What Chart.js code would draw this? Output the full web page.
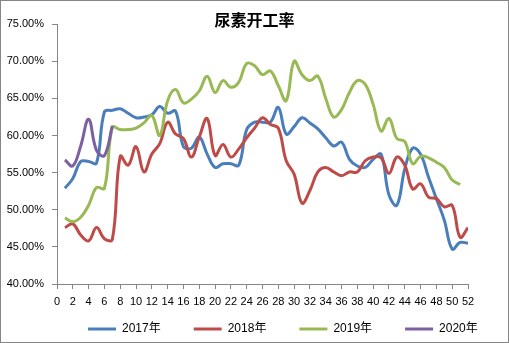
<!DOCTYPE html>
<html lang="zh-CN">
<head>
  <meta charset="UTF-8" />
  <title>尿素开工率</title>
  <script src="https://cdn.jsdelivr.net/npm/chart.js"></script>
  <style>
    body { margin: 0; background: #fff; }
    #wrap { width: 509px; height: 343px; }
  </style>
</head>
<body>
  <div id="wrap"><canvas id="grafico" width="509" height="343"></canvas></div>

  <script>
    // semanas (eixo x)
    const weeks = [1, 2, 3, 4, 5, 6, 7, 8, 9, 10, 11, 12, 13, 14, 15, 16, 17, 18, 19, 20,
      21, 22, 23, 24, 25, 26, 27, 28, 29, 30, 31, 32, 33, 34, 35, 36, 37, 38, 39, 40,
      41, 42, 43, 44, 45, 46, 47, 48, 49, 50, 51, 52];

    // taxa de operação (%) por ano
    const s2017 = [52.9, 54.2, 56.5, 56.5, 56.3, 63.2, 63.4, 63.6, 63.0, 62.4,
      62.5, 62.8, 63.9, 63.0, 63.3, 58.5, 58.3, 59.8, 57.5, 55.7,
      56.2, 56.2, 56.0, 60.8, 61.8, 61.8, 61.8, 63.8, 60.2, 61.2,
      62.4, 61.7, 60.9, 59.7, 58.6, 59.1, 56.8, 55.9, 55.7, 56.8,
      57.5, 52.0, 50.6, 55.5, 58.3, 57.5, 54.4, 51.5, 48.6, 44.7,
      45.6, 45.5];
    const s2018 = [47.6, 48.1, 46.6, 45.8, 47.6, 46.1, 46.0, 57.2, 56.0, 58.5,
      55.1, 57.5, 58.9, 61.8, 60.2, 59.6, 57.1, 59.8, 62.3, 57.3,
      58.8, 57.1, 58.2, 59.7, 61.0, 62.4, 61.5, 61.0, 56.6, 54.8,
      50.9, 52.6, 55.1, 55.7, 55.1, 54.6, 55.1, 55.1, 56.6, 57.1,
      57.0, 54.9, 57.1, 56.0, 52.8, 53.5, 51.7, 51.5, 50.4, 50.6,
      46.3, 47.6];
    const s2019 = [48.9, 48.4, 49.0, 50.6, 53.0, 52.9, 61.1, 60.8, 60.8, 61.0,
      61.7, 62.7, 60.0, 64.7, 66.2, 64.4, 64.9, 66.0, 68.0, 65.8,
      67.4, 66.5, 67.2, 69.7, 69.4, 68.2, 68.7, 66.7, 64.7, 70.0,
      68.2, 67.4, 68.0, 65.0, 62.5, 63.5, 65.8, 67.4, 66.9, 64.2,
      60.6, 62.3, 59.6, 59.2, 56.2, 57.2, 57.0, 56.4, 55.7, 54.0,
      53.4];
    const s2020 = [56.7, 55.9, 58.6, 62.2, 58.0, 57.3, 61.3];

    const seriesNames = ['2017年', '2018年', '2019年', '2020年'];
    const seriesColors = ['#4a7ebb', '#be4b48', '#98b954', '#7d60a0'];
    const seriesData = [s2017, s2018, s2019, s2020];

    // escalas
    const xMin = 0, xMax = 52, xStep = 2;
    const yMin = 40, yMax = 75, yStep = 5;

    const corEixo = '#868686';
    const fonte = "'Liberation Sans', 'Noto Sans CJK SC', sans-serif";

    Chart.defaults.color = '#000';
    Chart.defaults.font.family = fonte;

    const ajustes = {
      id: 'ajustes',
      afterLayout(chart) {
        // legenda deslocada como no original
        const lg = chart.legend;
        lg.left += 55; lg.right += 55;
        lg.top -= 18;
      },
      afterDraw(chart) {
        const c = chart.ctx;
        c.save();
        c.strokeStyle = corEixo;
        c.lineWidth = 1;
        c.strokeRect(0.5, 0.5, chart.width - 1, chart.height - 1);
        c.restore();
      }
    };

    const ctx = document.getElementById('grafico');
    new Chart(ctx, {
      type: 'line',
      data: {
        labels: weeks,
        datasets: seriesData.map((d, i) => ({
          label: seriesNames[i],
          data: d,
          borderColor: seriesColors[i],
          backgroundColor: seriesColors[i],
          borderWidth: 3,
          pointRadius: 0,
          tension: 0.4,
          fill: false,
          order: 3 - i
        }))
      },
      options: {
        responsive: false,
        animation: false,
        layout: { padding: 0 },
        plugins: {
          tooltip: { enabled: false },
          title: {
            display: true,
            text: '尿素开工率',
            color: '#000',
            font: { family: "'Noto Sans CJK SC', sans-serif", size: 16, weight: 'bold' },
            padding: { top: 10, bottom: -5 }
          },
          legend: {
            position: 'bottom',
            align: 'start',
            maxHeight: 35,
            labels: {
              boxWidth: 28,
              boxHeight: 3,
              padding: 33,
              font: { size: 12 },
              color: '#000',
              generateLabels: chart => chart.data.datasets.map((d, i) => ({
                text: d.label,
                fillStyle: d.borderColor,
                strokeStyle: d.borderColor,
                lineWidth: 0,
                hidden: false,
                datasetIndex: i
              }))
            }
          }
        },
        scales: {
          x: {
            type: 'linear',
            min: xMin,
            max: xMax,
            afterFit: s => { s.height = 24; },
            grid: { display: true, drawOnChartArea: false, color: corEixo, tickLength: 5 },
            border: { display: true, color: corEixo },
            ticks: { stepSize: xStep, autoSkip: false, maxRotation: 0, padding: 6, font: { size: 11 } }
          },
          y: {
            min: yMin,
            max: yMax,
            afterFit: s => { s.width = 57; },
            grid: { display: true, drawOnChartArea: false, color: corEixo, tickLength: 5 },
            border: { display: true, color: corEixo },
            ticks: {
              stepSize: yStep,
              padding: 8,
              font: { size: 11 },
              callback: v => v.toFixed(2) + '%'
            }
          },
          yR: {
            type: 'linear',
            position: 'right',
            afterFit: s => { s.width = 41; },
            grid: { display: false },
            border: { display: false },
            ticks: { display: false }
          }
        }
      },
      plugins: [ajustes]
    });
  </script>
</body>
</html>
